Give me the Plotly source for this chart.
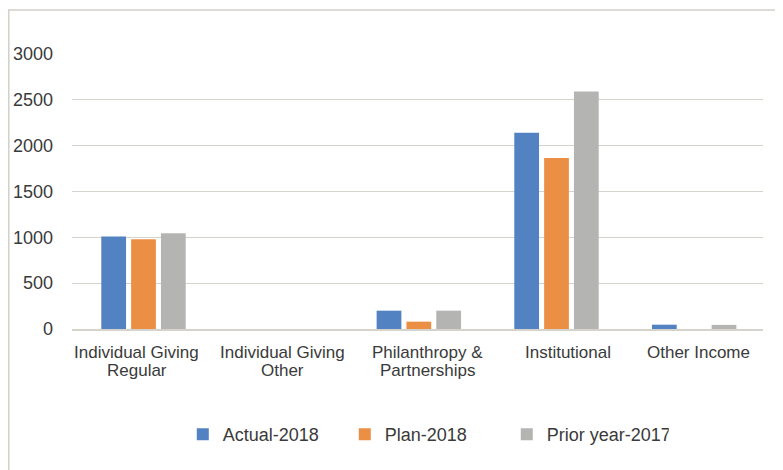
import plotly.graph_objects as go

categories = ["Individual Giving<br>Regular", "Individual Giving<br>Other",
              "Philanthropy &<br>Partnerships", "Institutional", "Other Income"]
actual_2018 = [1010, 0, 200, 2140, 47]
plan_2018 = [980, 0, 80, 1865, 0]
prior_2017 = [1045, 0, 200, 2590, 45]
y_ticks = [0, 500, 1000, 1500, 2000, 2500, 3000]

# horizontal nudges of the category labels, in px (style only)
label_xshift = [-7, 1, 9, 11, 4]

series = [
    ("Actual-2018", actual_2018, "#5282c1"),
    ("Plan-2018", plan_2018, "#eb8f45"),
    ("Prior year-2017", prior_2017, "#b4b4b3"),
]

fig = go.Figure()
for name, vals, col in series:
    fig.add_trace(go.Bar(x=categories, y=vals, name=name, marker_color=col,
                         marker_line_width=0))

# The page body adds an 8px offset; the figure is sized to fit the window.
W, H = 775, 462
L, R, T, B = 64, 20, 46, 140.7
pw = W - L - R
ph = H - T - B
TXT = "#3a3a3a"

annotations = []
for cat, dx in zip(categories, label_xshift):
    for i, line in enumerate(cat.split("<br>")):
        annotations.append(dict(x=cat, xref="x", y=0, yref="paper",
                                text=line, showarrow=False,
                                xanchor="center", yanchor="middle",
                                xshift=dx, yshift=-23 - 18.4 * i,
                                font=dict(size=17, color=TXT)))

fig.update_layout(
    width=W, height=H,
    margin=dict(l=L, r=R, t=T, b=B, autoexpand=False),
    paper_bgcolor="white", plot_bgcolor="white",
    barmode="group", bargap=0.35, bargroupgap=0.17,
    font=dict(family="Liberation Sans, Arial, sans-serif", size=18, color=TXT),
    showlegend=True,
    legend=dict(orientation="h", x=0.512, xanchor="center", y=-0.384, yanchor="middle",
                font=dict(size=18, color=TXT), itemwidth=30,
                entrywidth=117, traceorder="normal"),
    annotations=annotations,
    shapes=[dict(type="rect", xref="paper", yref="paper",
                 x0=-(L - 0.8) / pw, x1=(W + 20 - L) / pw,
                 y0=-(H + 20 - (H - B)) / ph, y1=1 + (T - 2) / ph,
                 line=dict(color="#d3cfc9", width=1.5), fillcolor="rgba(0,0,0,0)",
                 layer="below")],
)
fig.update_yaxes(range=[0, 3000], tickvals=y_ticks, showgrid=True,
                 gridcolor="#d6d2cc", gridwidth=1, zeroline=False,
                 showline=False, ticks="", ticklabelstandoff=18,
                 tickfont=dict(size=18, color=TXT))
fig.update_xaxes(showline=True, linecolor="#d6d2cc", linewidth=2, ticks="",
                 showticklabels=False)

fig.write_html("out.html")
